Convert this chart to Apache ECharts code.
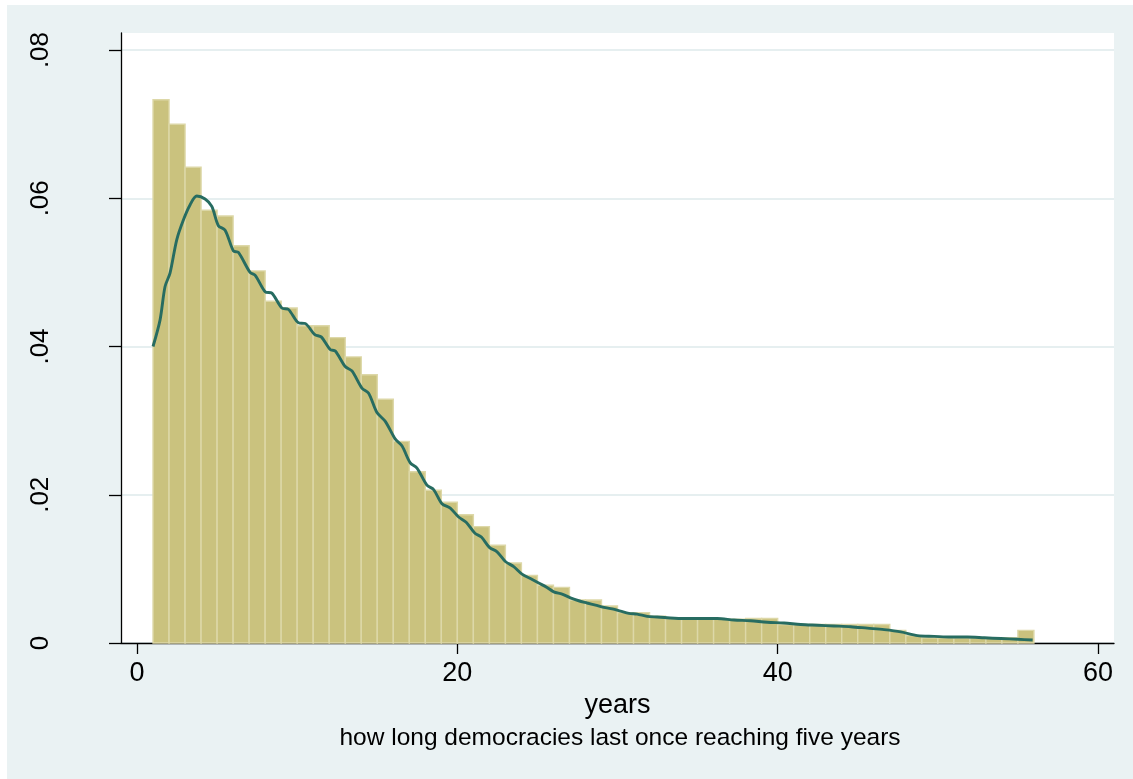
<!DOCTYPE html>
<html>
<head>
<meta charset="utf-8">
<script src="https://cdn.jsdelivr.net/npm/echarts@6/dist/echarts.min.js"></script>
<style>
  html, body { margin: 0; padding: 0; background: #fff; }
  #chart { width: 1133px; height: 779px; }
</style>
</head>
<body>
<div id="chart"></div>
<script>
// histogram bins (left edge, width 1 year) and densities
const binLeft = [1, 2, 3, 4, 5, 6, 7, 8, 9, 10, 11, 12, 13, 14, 15, 16, 17, 18, 19, 20,
  21, 22, 23, 24, 25, 26, 27, 28, 29, 30, 31, 32, 33, 34, 35, 36, 37, 38, 39, 40,
  41, 42, 43, 44, 45, 46, 47, 48, 49, 50, 51, 52, 53, 54, 55];
const binDensity = [0.0733, 0.0700, 0.0642, 0.0584, 0.0576, 0.0536, 0.0502, 0.0461, 0.0452, 0.0428,
  0.0428, 0.0412, 0.0386, 0.0362, 0.0329, 0.0272, 0.0231, 0.0206, 0.0190, 0.0173,
  0.0157, 0.0132, 0.0108, 0.0091, 0.0078, 0.0075, 0.0058, 0.0058, 0.0050, 0.0041,
  0.0041, 0.0036, 0.0033, 0.0032, 0.0032, 0.0032, 0.0032, 0.0033, 0.0033, 0.0025,
  0.0025, 0.0025, 0.0025, 0.0025, 0.0025, 0.0025, 0.0017, 0.0010, 0.0007, 0.0007,
  0.0007, 0.0007, 0.0007, 0.0007, 0.0017];

// kernel density curve
const kdenX = [1.0, 1.44, 1.75, 2.06, 2.48, 2.9, 3.31, 3.73, 4.25, 4.67, 5.08, 5.5, 6.02, 6.33,
  7.06, 7.38, 8.0, 8.42, 9.04, 9.46, 10.08, 10.5, 11.1, 11.5, 12.06, 12.38, 13.0, 13.42,
  14.04, 14.46, 14.98, 15.5, 16.13, 16.54, 17.06, 17.48, 18.1, 18.52, 19.04, 19.56, 20.08,
  20.55, 21.1, 21.5, 22.0, 22.48, 23.0, 23.52, 24.04, 24.56, 25.08, 25.6, 26.02, 26.54,
  27.06, 27.58, 28.1, 28.63, 29.15, 29.67, 30.19, 30.71, 31.23, 31.85, 32.48, 33.1, 34.15,
  35.19, 36.23, 37.27, 38.3, 39.35, 40.4, 41.44, 42.48, 43.52, 44.56, 45.6, 46.65, 47.69,
  48.73, 49.77, 50.8, 51.85, 52.9, 53.94, 54.98, 55.92];
const kdenY = [0.0400, 0.0436, 0.0481, 0.0499, 0.0544, 0.0571, 0.0591, 0.0603, 0.0599, 0.0589,
  0.0563, 0.0557, 0.0529, 0.0527, 0.0500, 0.0496, 0.0474, 0.0472, 0.0452, 0.0450,
  0.0432, 0.0431, 0.0416, 0.0413, 0.0396, 0.0394, 0.0373, 0.0367, 0.0344, 0.0337,
  0.0311, 0.0299, 0.0275, 0.0266, 0.0243, 0.0236, 0.0213, 0.0207, 0.0188, 0.0182,
  0.0170, 0.0163, 0.0148, 0.0143, 0.0129, 0.0123, 0.0110, 0.0103, 0.0093, 0.0087,
  0.0081, 0.0075, 0.0069, 0.0066, 0.0061, 0.0057, 0.0054, 0.0051, 0.0048, 0.0046,
  0.0043, 0.0040, 0.0039, 0.0036, 0.0035, 0.0034, 0.0033, 0.0033, 0.0033, 0.0031,
  0.0030, 0.0028, 0.0027, 0.0025, 0.0024, 0.0023, 0.0022, 0.0020, 0.0018, 0.0015,
  0.0010, 0.0009, 0.0008, 0.0008, 0.0007, 0.0006, 0.0005, 0.0004];

const xTicks = [0, 20, 40, 60];
const yTicks = [0, 0.02, 0.04, 0.06, 0.08];

const chart = echarts.init(document.getElementById('chart'));
const font = 'Arial, "Liberation Sans", Helvetica, sans-serif';

const histData = binLeft.map((x, i) => [x, x + 1, binDensity[i]]);
const kdenData = kdenX.map((x, i) => [x, kdenY[i]]);

const option = {
  backgroundColor: '#ffffff',
  animation: false,
  graphic: [
    {
      type: 'rect', z: -10, silent: true,
      shape: { x: 7, y: 5, width: 1126, height: 774 },
      style: { fill: '#eaf2f3' }
    },
    {
      type: 'rect', z: -9, silent: true,
      shape: { x: 121, y: 33, width: 993, height: 610 },
      style: { fill: '#ffffff' }
    },
    {
      type: 'text', x: 620, y: 738,
      style: {
        text: 'how long democracies last once reaching five years',
        font: '24.5px ' + font, fill: '#000',
        textAlign: 'center', textVerticalAlign: 'middle'
      }
    }
  ],
  grid: { left: 121, right: 19, top: 33, bottom: 136 },
  xAxis: {
    type: 'value', min: -1, max: 61,
    name: 'years', nameLocation: 'middle', nameGap: 48,
    nameTextStyle: { fontSize: 27, fontFamily: font, color: '#000' },
    axisLine: { show: true, onZero: false, lineStyle: { color: '#000', width: 1.3 } },
    axisTick: { show: true, length: 11, customValues: xTicks, lineStyle: { color: '#000', width: 1.3 } },
    axisLabel: { customValues: xTicks, fontSize: 27, fontFamily: font, color: '#000', margin: 17 },
    splitLine: { show: false }
  },
  yAxis: {
    type: 'value', min: 0, max: 0.0823,
    axisLine: { show: true, onZero: false, lineStyle: { color: '#000', width: 1.3 } },
    axisTick: { show: true, length: 12, customValues: yTicks, lineStyle: { color: '#000', width: 1.3 } },
    axisLabel: {
      customValues: yTicks, rotate: 90, fontSize: 26, fontFamily: font, color: '#000', margin: 67,
      formatter: v => v === 0 ? '0' : String(v).replace(/^0/, '')
    },
    splitLine: { show: true, lineStyle: { color: '#e6eff0', width: 2 } }
  },
  series: [
    {
      type: 'custom',
      data: histData,
      z: 2,
      renderItem: (params, api) => {
        const p0 = api.coord([api.value(0), 0]);
        const p1 = api.coord([api.value(1), api.value(2)]);
        return {
          type: 'rect',
          shape: { x: p0[0], y: p1[1], width: p1[0] - p0[0], height: p0[1] - p1[1] },
          style: { fill: '#cac27e', stroke: '#ddd8a8', lineWidth: 1.4 }
        };
      }
    },
    {
      type: 'line',
      data: kdenData,
      z: 3,
      smooth: 0.3,
      showSymbol: false,
      lineStyle: { color: '#276c61', width: 2.9 }
    }
  ]
};

chart.setOption(option);
</script>
</body>
</html>
